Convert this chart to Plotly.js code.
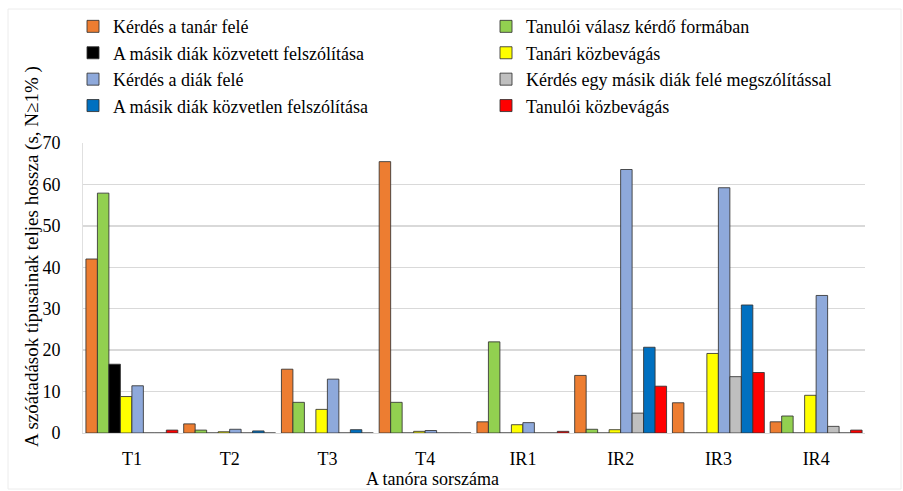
<!DOCTYPE html>
<html>
<head>
<meta charset="utf-8">
<script src="https://cdn.plot.ly/plotly-3.0.1.min.js"></script>
<style>
html,body{margin:0;padding:0;background:#fff;}
#chart{width:903px;height:491px;}
</style>
</head>
<body>
<div id="chart"></div>
<script>
var categories = ["T1","T2","T3","T4","IR1","IR2","IR3","IR4"];
var seriesNames = [
  "Kérdés a tanár felé",
  "Tanulói válasz kérdő formában",
  "A másik diák közvetett felszólítása",
  "Tanári közbevágás",
  "Kérdés a diák felé",
  "Kérdés egy másik diák felé megszólítással",
  "A másik diák közvetlen felszólítása",
  "Tanulói közbevágás"
];
var kerdesTanar   = [42.0, 2.2, 15.4, 65.5, 2.7, 13.9, 7.3, 2.7];
var tanuloiValasz = [57.9, 0.7, 7.4, 7.4, 22.0, 0.9, 0, 4.1];
var kozvetett     = [16.6, 0, 0, 0, 0, 0, 0, 0];
var tanariKozbe   = [8.8, 0.3, 5.7, 0.4, 2.0, 0.8, 19.2, 9.1];
var kerdesDiak    = [11.4, 0.9, 13.0, 0.6, 2.5, 63.6, 59.2, 33.2];
var megszolitas   = [0, 0, 0, 0, 0, 4.8, 13.6, 1.6];
var kozvetlen     = [0, 0.5, 0.8, 0, 0, 20.7, 30.9, 0];
var tanuloiKozbe  = [0.7, 0, 0, 0, 0.4, 11.3, 14.6, 0.7];
var seriesValues = [kerdesTanar, tanuloiValasz, kozvetett, tanariKozbe, kerdesDiak, megszolitas, kozvetlen, tanuloiKozbe];
var colors = ["#ED7D31","#92D050","#000000","#FFFF00","#8EA9DB","#BFBFBF","#0070C0","#FF0000"];
var yTicks = [0,10,20,30,40,50,60,70];

var serif = "Liberation Serif";
var traces = seriesValues.map(function(v,i){
  return {
    type:"bar", x:categories, y:v, name:seriesNames[i],
    marker:{color:colors[i], line:{color:"rgba(50,50,50,0.85)", width:1}}
  };
});

var layout = {
  width:903, height:491,
  margin:{l:83, r:38, t:143, b:58, autoexpand:false},
  paper_bgcolor:"#fff", plot_bgcolor:"#fff",
  barmode:"group", bargap:0.06, bargroupgap:0,
  font:{family:serif, size:18, color:"#000"},
  showlegend:true,
  legend:{orientation:"h", x:(73-83)/782, xanchor:"left", y:1.465, yanchor:"top",
    entrywidth:368, entrywidthmode:"pixels", itemwidth:30,
    font:{family:serif, size:18, color:"#000"},
    bgcolor:"rgba(0,0,0,0)", traceorder:"normal"},
  xaxis:{type:"category", showgrid:false, showline:true, linecolor:"#d9d9d9", linewidth:1,
    ticks:"outside", ticklen:9, tickcolor:"rgba(0,0,0,0)", tickfont:{family:serif,size:18}},
  yaxis:{range:[0,70], tickvals:yTicks, showgrid:true, gridcolor:"#d9d9d9", gridwidth:1.5,
    zeroline:false, showline:true, linecolor:"#e0e0e0",
    ticks:"outside", ticklen:18, tickcolor:"rgba(0,0,0,0)", tickfont:{family:serif,size:18}},
  shapes:[
    {type:"rect", xref:"paper", yref:"paper", x0:(8-83)/782, x1:(901-83)/782, y0:(433-489)/290, y1:(433-9)/290,
     line:{color:"#ececec", width:1}, fillcolor:"rgba(0,0,0,0)", layer:"below"}
  ],
  annotations:[
    {text:"A tanóra sorszáma", xref:"paper", yref:"paper", x:(432-83)/782, y:0, yshift:-46,
     showarrow:false, xanchor:"center", yanchor:"middle", font:{family:serif,size:18}},
    {text:"A szóátadások típusainak teljes hossza (s, N≥1% )", xref:"paper", yref:"paper",
     x:0, xshift:-51, y:(433-257)/290, textangle:-90, showarrow:false,
     xanchor:"center", yanchor:"middle", font:{family:serif,size:19}}
  ]
};
Plotly.newPlot("chart", traces, layout, {displayModeBar:false, staticPlot:true});
</script>
</body>
</html>
